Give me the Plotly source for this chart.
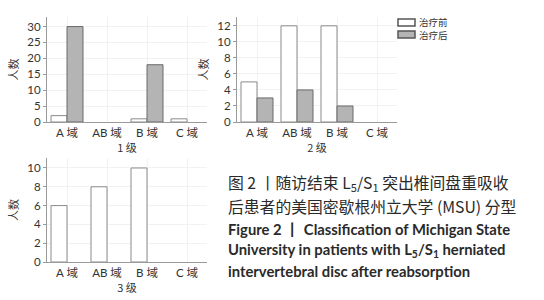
import plotly.graph_objects as go

categories = ["A 域", "AB 域", "B 域", "C 域"]
g1_before = [2, 0, 1, 1]
g1_after = [30, 0, 18, 0]
g2_before = [5, 12, 12, 0]
g2_after = [3, 4, 2, 0]
g3_before = [6, 8, 10, 0]
g3_after = [0, 0, 0, 0]
panel_titles = ["1 级", "2 级", "3 级"]
series_names = ["治疗前", "治疗后"]

W, H = 544, 300
def fx(px):
    return px / W
def fy(py):
    return 1 - py / H

def nz(vals):
    return [v if v != 0 else None for v in vals]

BEFORE_FILL, BEFORE_LINE = "white", "#8a8a8a"
AFTER_FILL, AFTER_LINE = "#b4b4b4", "#6a6a6a"

fig = go.Figure()
panels = [(g1_before, g1_after, "x", "y"), (g2_before, g2_after, "x2", "y2"), (g3_before, g3_after, "x3", "y3")]
for b, a, xa, ya in panels:
    fig.add_trace(go.Bar(x=categories, y=nz(b), name=series_names[0], xaxis=xa, yaxis=ya, showlegend=False,
                         marker=dict(color=BEFORE_FILL, line=dict(color=BEFORE_LINE, width=1))))
    fig.add_trace(go.Bar(x=categories, y=nz(a), name=series_names[1], xaxis=xa, yaxis=ya, showlegend=False,
                         marker=dict(color=AFTER_FILL, line=dict(color=AFTER_LINE, width=1))))

tickfont = dict(family="Lato, Noto Sans CJK SC, sans-serif", size=11.5, color="#333")
titlefont = dict(family="Noto Sans CJK SC, sans-serif", size=11, color="#333")
common_x = dict(showline=True, linecolor="#9a9a9a", linewidth=1, showgrid=True, gridcolor="#f2f2f2",
                tickfont=tickfont, ticks="", title_font=titlefont, title_standoff=0, automargin=False)
common_y = dict(showline=True, linecolor="#9a9a9a", linewidth=1, showgrid=True, gridcolor="#f2f2f2",
                tickfont=tickfont, ticks="outside", ticklen=3, tickcolor="#9a9a9a",
                title_font=titlefont, title_standoff=6, zeroline=False, automargin=False)

fig.update_layout(
    width=W, height=H, margin=dict(l=0, r=0, t=0, b=0, autoexpand=False),
    paper_bgcolor="white", plot_bgcolor="white",
    barmode="group", bargap=0.2, bargroupgap=0,
    xaxis=dict(domain=[fx(47), fx(207)], anchor="y", title_text=panel_titles[0], **common_x),
    yaxis=dict(domain=[fy(122), fy(17)], anchor="x", range=[0, 33], dtick=5, title_text="人数", **common_y),
    xaxis2=dict(domain=[fx(237), fx(397)], anchor="y2", title_text=panel_titles[1], **common_x),
    yaxis2=dict(domain=[fy(122), fy(17)], anchor="x2", range=[0, 13.1], dtick=2, title_text="人数", **common_y),
    xaxis3=dict(domain=[fx(47), fx(207)], anchor="y3", title_text=panel_titles[2], **common_x),
    yaxis3=dict(domain=[fy(262), fy(158)], anchor="x3", range=[0, 11.06], dtick=2, title_text="人数", **common_y),
    showlegend=False,
)

# legend drawn as key boxes + labels
legend_items = [(series_names[0], BEFORE_FILL, "#555"), (series_names[1], AFTER_FILL, "#555")]
for i, (name, fill, line) in enumerate(legend_items):
    y0 = 19 + i * 12
    fig.add_shape(type="rect", xref="paper", yref="paper", x0=fx(398), x1=fx(415), y0=fy(y0 + 7), y1=fy(y0),
                  fillcolor=fill, line=dict(color=line, width=1.5))
    fig.add_annotation(text=name, xref="paper", yref="paper", x=fx(417), y=fy(y0 + 3.5),
                       xanchor="left", yanchor="middle", showarrow=False,
                       font=dict(family="Noto Sans CJK SC, sans-serif", size=9.5, color="#333"))

caption = [
    ("图 2 丨随访结束 L<sub>5</sub>/S<sub>1</sub> 突出椎间盘重吸收", 183, "Noto Sans CJK SC, sans-serif", 15.8),
    ("后患者的美国密歇根州立大学 (MSU) 分型", 206.5, "Noto Sans CJK SC, sans-serif", 15.8),
    ("<b>Figure 2 丨 Classification of Michigan State</b>", 228.5, "Lato, sans-serif", 14.8),
    ("<b>University in patients with L<sub>5</sub>/S<sub>1</sub> herniated</b>", 249.5, "Lato, sans-serif", 14.8),
    ("<b>intervertebral disc after reabsorption</b>", 271, "Lato, sans-serif", 14.8),
]
for text, yc, fam, size in caption:
    fig.add_annotation(text=text, xref="paper", yref="paper", x=fx(226), y=fy(yc),
                       xanchor="left", yanchor="middle", showarrow=False,
                       font=dict(family=fam, size=size, color="#2a2a2a"))

fig.write_html("out.html", config={"displayModeBar": False},
               post_script="document.body.style.margin='0';document.body.style.overflow='hidden';")
